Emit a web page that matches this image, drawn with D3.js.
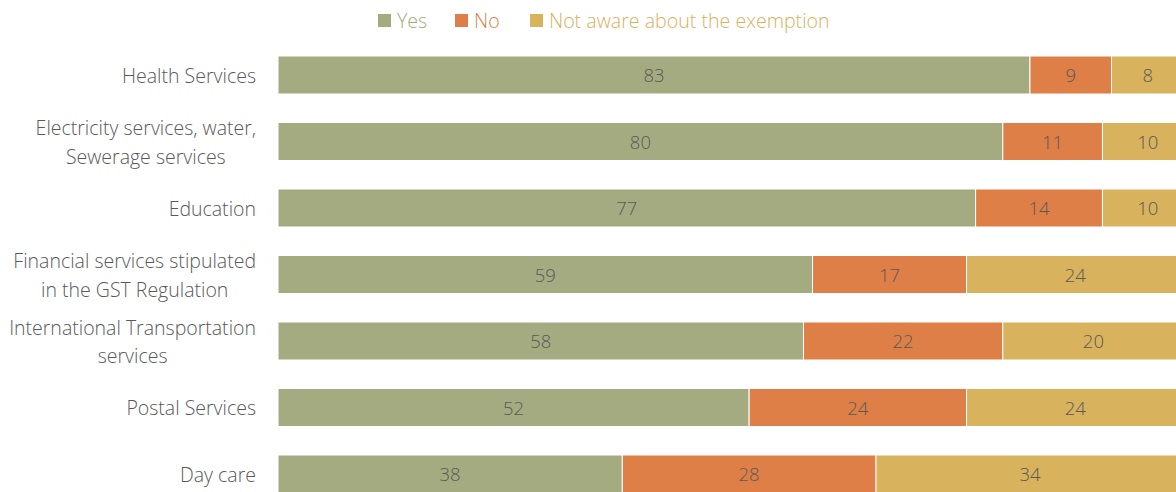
<!DOCTYPE html>
<html><head><meta charset="utf-8">
<script src="https://cdn.jsdelivr.net/npm/d3@7/dist/d3.min.js"></script>
<style>
html,body{margin:0;padding:0;background:#fff;overflow:hidden;}
svg{display:block;font-family:"Open Sans","Segoe UI",sans-serif;font-weight:300;}
</style></head><body>
<svg id="c" width="1176" height="492"></svg>
<script>
const categories = [
  ["Health Services"],
  ["Electricity services, water,", "Sewerage services"],
  ["Education"],
  ["Financial services stipulated", "in the GST Regulation"],
  ["International Transportation", "services"],
  ["Postal Services"],
  ["Day care"]
];
const seriesNames = ["Yes", "No", "Not aware about the exemption"];
const yesValues = [83, 80, 77, 59, 58, 52, 38];
const noValues = [9, 11, 14, 17, 22, 24, 28];
const notAwareValues = [8, 10, 10, 24, 20, 24, 34];
const colors = ["#A5AB81", "#DE7F48", "#D8B25C"];

const svg = d3.select("#c");
const keys = categories.map((c, i) => "c" + i);
const rows = keys.map((k, i) => ({key: k, Yes: yesValues[i], No: noValues[i], "Not aware about the exemption": notAwareValues[i]}));

const x = d3.scaleLinear().domain([0, 100]).range([278, 1184]);
const y = d3.scaleBand().domain(keys).range([41.75, 507.25]).paddingInner(0.4286).paddingOuter(0.2143);
const color = d3.scaleOrdinal().domain(seriesNames).range(colors);

const stack = d3.stack().keys(seriesNames)(rows);

const g = svg.append("g");
stack.forEach(layer => {
  const lg = g.append("g");
  lg.selectAll("rect").data(layer).join("rect")
    .attr("x", d => x(d[0]))
    .attr("y", d => y(d.data.key))
    .attr("width", d => x(d[1]) - x(d[0]))
    .attr("height", y.bandwidth())
    .attr("fill", color(layer.key))
    .attr("stroke", "#fff").attr("stroke-width", 1);
  lg.selectAll("text").data(layer).join("text")
    .attr("x", d => (x(d[0]) + x(d[1])) / 2)
    .attr("y", d => y(d.data.key) + y.bandwidth() / 2 + 1)
    .attr("dy", "0.35em")
    .attr("text-anchor", "middle")
    .attr("font-size", 18.5)
    .attr("fill", "#595959")
    .text(d => d[1] - d[0]);
});

// category axis labels (multi-line labels centred within their block)
const yAxis = d3.axisLeft(y).tickSize(0).tickFormat(() => "");
const ax = svg.append("g").attr("transform", "translate(278,0)").call(yAxis);
ax.select(".domain").remove();
ax.selectAll(".tick").each(function(k, i) {
  const lines = categories[i];
  const t = d3.select(this).append("text")
    .attr("text-anchor", "middle")
    .attr("font-size", 19.5).attr("fill", "#595959")
    .attr("font-family", '"Open Sans","Segoe UI",sans-serif')
    .attr("font-weight", 300);
  const lh = 28.5;
  const off = -(lines.length - 1) * lh / 2 + 1;
  const spans = lines.map((l, j) =>
    t.append("tspan").attr("y", off + j * lh).attr("dy", "0.35em").text(l));
  const w = d3.max(spans, s => s.node().getComputedTextLength());
  spans.forEach(s => s.attr("x", -22 - w / 2));
});

// legend
const legendX = [378, 455, 530];
const leg = svg.append("g");
seriesNames.forEach((s, i) => {
  leg.append("rect").attr("x", legendX[i]).attr("y", 14).attr("width", 13).attr("height", 13).attr("fill", colors[i]);
  leg.append("text").attr("x", legendX[i] + 19).attr("y", 21).attr("dy", "0.35em")
    .attr("font-size", 19.6).attr("fill", colors[i]).text(s);
});
</script>
</body></html>
